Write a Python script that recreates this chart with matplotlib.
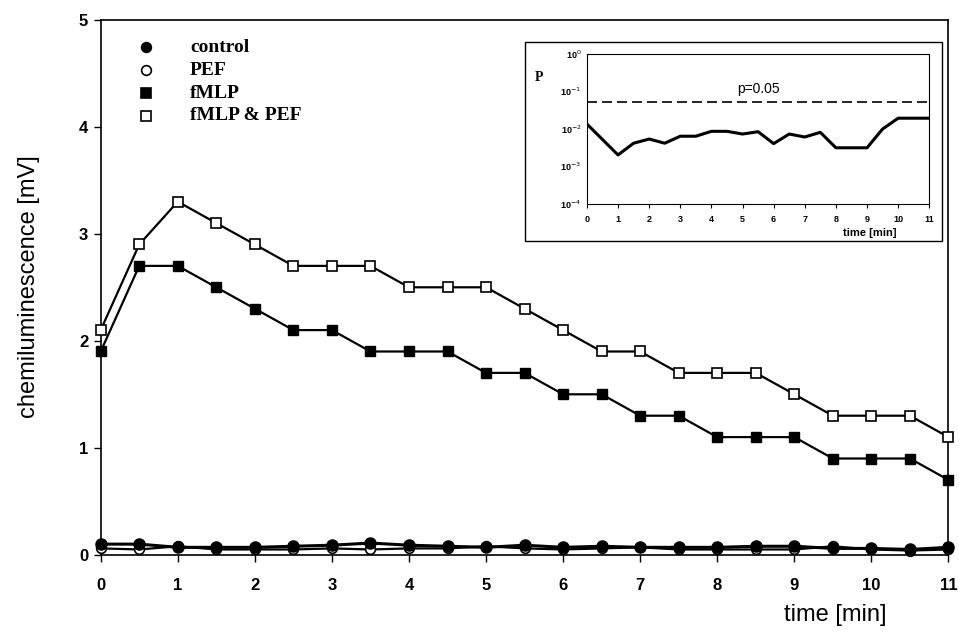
import numpy as np
import matplotlib.pyplot as plt
from matplotlib.patches import Rectangle

# datos
tiempo = [0, 0.5, 1, 1.5, 2, 2.5, 3, 3.5, 4, 4.5, 5, 5.5, 6, 6.5, 7, 7.5, 8, 8.5, 9, 9.5, 10, 10.5, 11]
control = [0.10, 0.10, 0.07, 0.07, 0.07, 0.08, 0.09, 0.11, 0.09, 0.08, 0.07, 0.09, 0.07, 0.08, 0.07, 0.07,
           0.07, 0.08, 0.08, 0.06, 0.06, 0.05, 0.07]
pef = [0.06, 0.05, 0.08, 0.05, 0.05, 0.05, 0.06, 0.05, 0.06, 0.06, 0.08, 0.06, 0.05, 0.06, 0.07, 0.05,
       0.05, 0.05, 0.05, 0.08, 0.05, 0.04, 0.05]
fmlp = [1.9, 2.7, 2.7, 2.5, 2.3, 2.1, 2.1, 1.9, 1.9, 1.9, 1.7, 1.7, 1.5, 1.5, 1.3, 1.3,
        1.1, 1.1, 1.1, 0.9, 0.9, 0.9, 0.7]
fmlp_pef = [2.1, 2.9, 3.3, 3.1, 2.9, 2.7, 2.7, 2.7, 2.5, 2.5, 2.5, 2.3, 2.1, 1.9, 1.9, 1.7,
            1.7, 1.7, 1.5, 1.3, 1.3, 1.3, 1.1]

# recuadro: valor p
tiempo_p = [0, 1, 1.5, 2, 2.5, 3, 3.5, 4, 4.5, 5, 5.5, 6, 6.5, 7, 7.5, 8, 8.5, 9, 9.5, 10, 10.5, 11]
valor_p = [0.0133, 0.0020, 0.0041, 0.0053, 0.0041, 0.0063, 0.0063, 0.0085, 0.0085, 0.0072, 0.0083,
           0.0040, 0.0072, 0.0060, 0.0080, 0.0031, 0.0031, 0.0031, 0.0098, 0.019, 0.019, 0.019]
umbral = 0.05

fig = plt.figure(figsize=(9.59, 6.37), dpi=100)
ax = fig.add_axes([0.105, 0.129, 0.884, 0.840])

estilo = dict(color='black', lw=1.6, markersize=7, clip_on=False, zorder=3)
ax.plot(tiempo, fmlp_pef, marker='s', mfc='white', mec='black', mew=1.2, **estilo)
ax.plot(tiempo, fmlp, marker='s', mfc='black', mec='black', **estilo)
ax.plot(tiempo, pef, marker='o', mfc='white', mec='black', mew=1.2, **estilo)
ax.plot(tiempo, control, marker='o', mfc='black', mec='black', lw=2.2, markersize=8, clip_on=False, zorder=4, color='black')

ax.set_xlim(0, 11)
ax.set_ylim(0, 5)
ax.set_xticks(range(0, 12))
ax.set_yticks(range(0, 6))
ax.tick_params(axis='both', direction='out', length=5, width=1, labelsize=12, pad=12)
ax.tick_params(axis='y', pad=4)
for lab in ax.get_xticklabels() + ax.get_yticklabels():
    lab.set_fontfamily('Liberation Sans')
    lab.set_fontweight('bold')
for s in ax.spines.values():
    s.set_linewidth(1.2)

fig.text(0.030, 0.55, 'chemiluminescence [mV]', rotation=90, va='center', ha='center',
         fontsize=17, family='Liberation Sans')
fig.text(0.871, 0.035, 'time [min]', ha='center', va='center', fontsize=17, family='Liberation Sans')

# leyenda manual
leyenda = [('control', 'o', 'black'), ('PEF', 'o', 'white'), ('fMLP', 's', 'black'), ('fMLP & PEF', 's', 'white')]
for i, (txt, mk, cara) in enumerate(leyenda):
    yy = 0.926 - i * 0.036
    fig.lines.append(plt.Line2D([0.152], [yy], marker=mk, mfc=cara, mec='black', mew=1.2,
                                markersize=7, transform=fig.transFigure, color='black'))
    fig.text(0.198, yy, txt, va='center', ha='left', fontsize=14, fontweight='bold',
             family='Liberation Serif')

# recuadro
fig.patches.append(Rectangle((0.547, 0.621), 0.435, 0.313, transform=fig.transFigure,
                             fill=False, ec='black', lw=1.0))
ins = fig.add_axes([0.612, 0.680, 0.357, 0.236])
ins.plot(tiempo_p, valor_p, color='black', lw=2.2)
ins.axhline(umbral, color='black', lw=1.2, ls=(0, (6, 3)))
ins.set_yscale('log')
ins.set_ylim(1e-4, 1)
ins.set_xlim(0, 11)
ins.set_xticks(range(0, 12))
ins.set_yticks([1e-4, 1e-3, 1e-2, 1e-1, 1])
ins.set_yticklabels(['10$^{-4}$', '10$^{-3}$', '10$^{-2}$', '10$^{-1}$', '10$^{0}$'])
ins.minorticks_off()
ins.tick_params(axis='both', length=3, width=0.8, labelsize=6.5, pad=5)
ins.tick_params(axis='y', length=0, pad=4)
for lab in ins.get_xticklabels() + ins.get_yticklabels():
    lab.set_fontweight('bold')
    lab.set_fontfamily('Liberation Sans')
ins.text(5.5, 0.075, 'p=0.05', ha='center', va='bottom', fontsize=10, family='Liberation Sans')
fig.text(0.558, 0.878, 'P', fontsize=10, fontweight='bold', family='Liberation Serif', va='center')
fig.text(0.907, 0.634, 'time [min]', fontsize=8, fontweight='bold', family='Liberation Sans',
         ha='center', va='center')

fig.savefig('out.png', dpi=100)
